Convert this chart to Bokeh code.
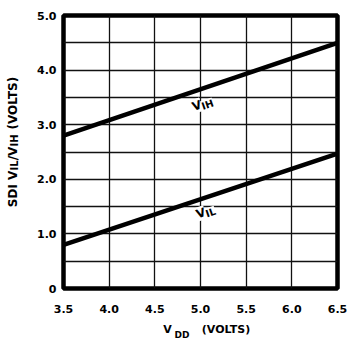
import math
from bokeh.plotting import figure
from bokeh.models import Range1d, FixedTicker, Label, LinearAxis
from bokeh.embed import file_html
from bokeh.resources import INLINE

# ---- data ----
vdd = [3.5, 6.5]
vih = [2.8, 4.5]
vil = [0.8, 2.47]
x_ticks = [3.5, 4.0, 4.5, 5.0, 5.5, 6.0, 6.5]
x_tick_labels = ["3.5", "4.0", "4.5", "5.0", "5.5", "6.0", "6.5"]
y_ticks = [0, 1, 2, 3, 4, 5]
y_tick_labels = ["0", "1.0", "2.0", "3.0", "4.0", "5.0"]
grid_x = [3.5, 4.0, 4.5, 5.0, 5.5, 6.0, 6.5]
grid_y = [0, 0.5, 1.0, 1.5, 2.0, 2.5, 3.0, 3.5, 4.0, 4.5, 5.0]
x_title = ["V", "DD", "(VOLTS)"]                  # V + subscript DD
y_title = ["SDI V", "IL", "/V", "IH", "(VOLTS)"]  # with subscripts IL, IH

X0, X1, Y0, Y1 = 3.5, 6.5, 0.0, 5.0
FONT = "DejaVu Sans"
W, H = 348, 342
FL, FR, FT, FB = 63, 337, 15, 289   # frame edges in page pixels

p = figure(width=W, height=H, output_backend="svg", toolbar_location=None,
           x_range=Range1d(X0, X1), y_range=Range1d(Y0, Y1),
           min_border_left=FL, min_border_right=W - FR,
           min_border_top=FT, min_border_bottom=H - FB)
p.background_fill_color = "white"
p.border_fill_color = "white"
p.outline_line_color = "black"
p.outline_line_width = 4.5

def style_axis(ax, size):
    ax.axis_line_color = None
    ax.major_tick_line_color = None
    ax.minor_tick_line_color = None
    ax.major_tick_out = 0
    ax.major_tick_in = 0
    ax.major_label_text_font = FONT
    ax.major_label_text_font_style = "bold"
    ax.major_label_text_font_size = f"{size}px"
    ax.major_label_text_color = "black"

style_axis(p.xaxis[0], 11)
style_axis(p.yaxis[0], 11)
p.xaxis.ticker = FixedTicker(ticks=x_ticks)
p.xaxis.major_label_overrides = {t: l for t, l in zip(x_ticks, x_tick_labels)}
p.xaxis.major_label_standoff = 16
p.yaxis.ticker = FixedTicker(ticks=y_ticks)
p.yaxis.major_label_overrides = {t: l for t, l in zip(y_ticks, y_tick_labels)}
p.yaxis.major_label_standoff = 7

p.xgrid.ticker = FixedTicker(ticks=grid_x)
p.ygrid.ticker = FixedTicker(ticks=grid_y)
for g in (p.xgrid, p.ygrid):
    g.grid_line_color = "#111111"
    g.grid_line_width = 1.3
    g.grid_line_alpha = 1.0

r1 = p.line(vdd, vih, line_color="black", line_width=4.5)
r2 = p.line(vdd, vil, line_color="black", line_width=4.5)
r1.level = "overlay"
r2.level = "overlay"

# page-pixel -> data helpers for text placement
def dx(px):
    return round(X0 + (px - FL) * (X1 - X0) / (FR - FL), 5)
def dy(py):
    return round(Y1 - (py - FT) * (Y1 - Y0) / (FB - FT), 5)

def lab(text, px, py, size, angle=0.0):
    l = Label(x=dx(px), y=dy(py), text=text, text_font=FONT, text_font_style="bold",
              text_font_size=f"{size}px", text_color="black", angle=angle,
              text_align="left", text_baseline="alphabetic",
              background_fill_color="white", background_fill_alpha=1.0)
    p.add_layout(l)

# curve labels (rotated along the lines)
th = math.radians(19)
def curve_label(main, sub, px, py):
    lab(main, px, py, 12, angle=th)
    ax_, ay_ = math.cos(th), -math.sin(th)
    bx_, by_ = math.sin(th), math.cos(th)
    adv, drop = 9.0, 2.5
    lab(sub, px + adv * ax_ + drop * bx_, py + adv * ay_ + drop * by_, 10, angle=th)

curve_label("V", "IH", 192, 107)
curve_label("V", "IL", 196, 215)

# ---- axis titles built from extra (tick-label-only) axes, so subscripts work ----
def title_axis(place, ticks, labels, size, standoff, orientation="horizontal"):
    ax = LinearAxis(ticker=FixedTicker(ticks=ticks))
    style_axis(ax, size)
    ax.major_label_overrides = {t: l for t, l in zip(ticks, labels)}
    ax.major_label_standoff = standoff
    ax.major_label_orientation = orientation
    p.add_layout(ax, place)

# x title: centers in page pixels
title_axis("below", [dx(167), dx(225.5)], [x_title[0], x_title[2]], 11, 7)
title_axis("below", [dx(181.5)], [x_title[1]], 9, -9)

# y title: vertical pieces, centers in page pixels (reads bottom to top)
title_axis("left", [dy(189), dy(153.5), dy(103)], [y_title[0], y_title[2], y_title[4]],
           12, 14, "vertical")
title_axis("left", [dy(165.5), dy(140.5)], [y_title[1], y_title[3]], 10, -17, "vertical")

open("out.html", "w").write(file_html(p, INLINE))
